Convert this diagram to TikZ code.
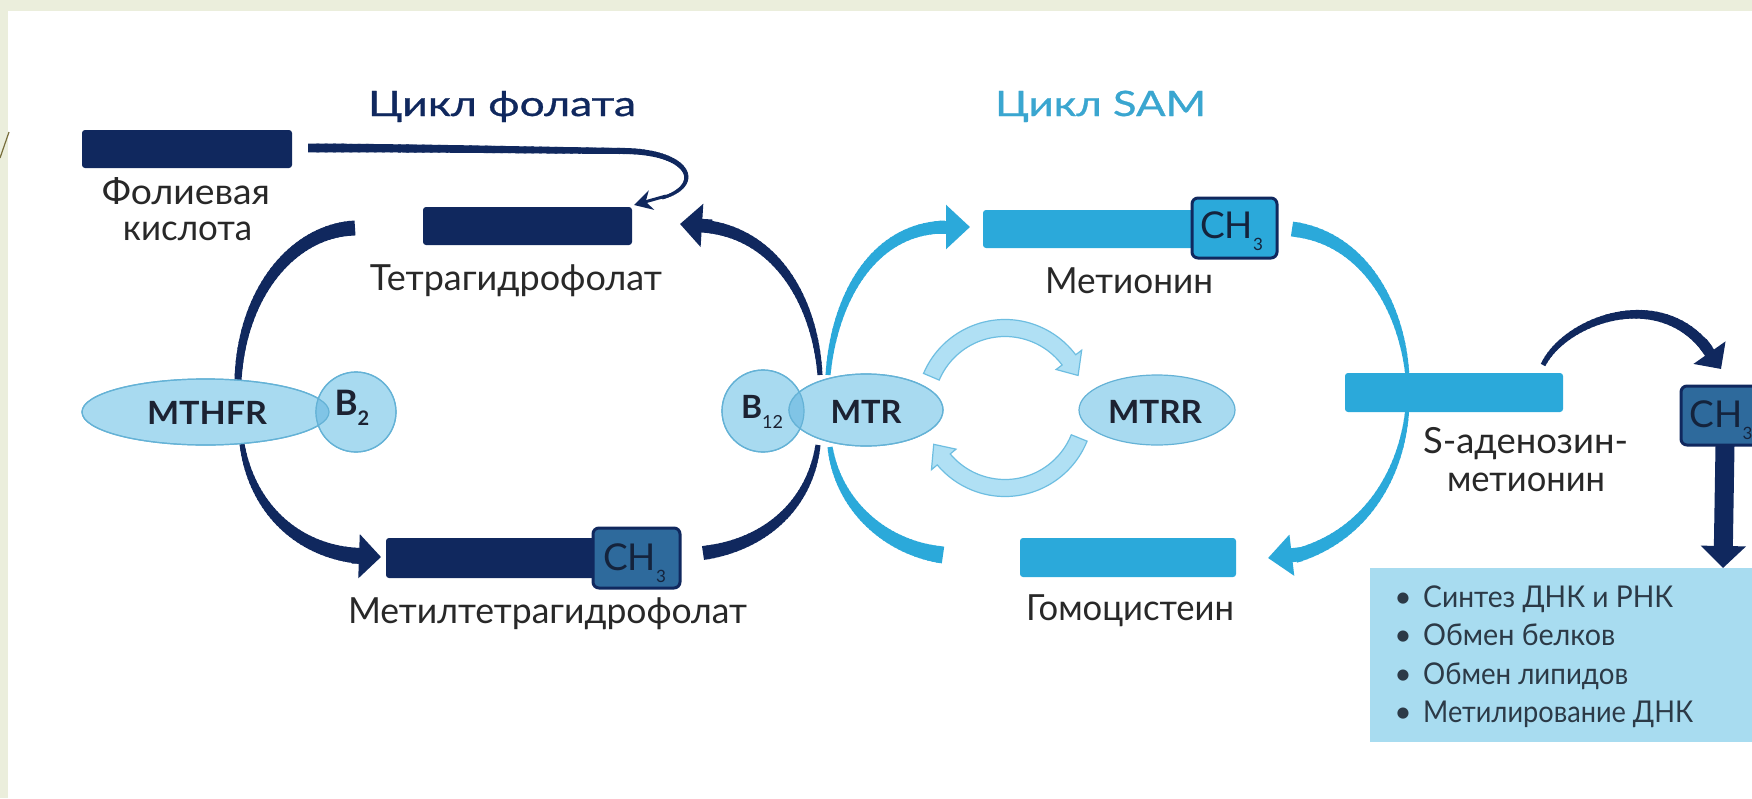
\documentclass[tikz,border=0pt]{standalone}
\usepackage{graphicx}
\usepackage{fontspec}
\setmainfont{Lato}
\newfontfamily\titlefont[FakeBold=0.7]{Lato}
\usetikzlibrary{arrows.meta,calc,shapes.geometric}

\definecolor{navy}{RGB}{16,40,94}
\definecolor{sky}{RGB}{43,169,218}
\definecolor{chmid}{RGB}{46,106,156}
\definecolor{enz}{RGB}{168,218,240}
\definecolor{enzdk}{RGB}{128,196,230}
\definecolor{enzline}{RGB}{100,178,214}
\definecolor{infob}{RGB}{168,220,240}
\definecolor{skytitle}{RGB}{58,166,208}
\definecolor{bgc}{RGB}{235,238,220}
\definecolor{cycf}{RGB}{176,224,244}
\definecolor{cycl}{RGB}{110,190,225}
\definecolor{txt}{RGB}{40,40,40}
\definecolor{enztxt}{RGB}{28,34,50}
\definecolor{chtxt}{RGB}{20,35,60}
\definecolor{bultxt}{RGB}{44,58,71}
\definecolor{olivel}{RGB}{120,110,60}

\newcommand\fitw[2]{\resizebox{#1}{\height}{#2}}
\newcommand\chlab{CH\raisebox{-12pt}{\fontsize{17}{17}\selectfont 3}}

% tapered curve: colour, start width, end width, p0, p1, p2, p3
\newcommand\swoosh[7]{%
  \foreach \k in {0,...,39}{%
    \pgfmathsetmacro\ta{\k/40}%
    \pgfmathsetmacro\tb{min(1,(\k+1.35)/40)}%
    \pgfmathsetmacro\wk{#2+(#3-#2)*(\k+0.5)/40}%
    \path #4 .. controls #5 and #6 .. #7 coordinate[pos=\ta] (swA) coordinate[pos=\tb] (swB);%
    \draw[draw=#1, line width=\wk pt, line cap=butt] (swA) -- (swB);%
  }%
}

\tikzset{
  bar/.style={rectangle, rounded corners=3pt, inner sep=0pt, outer sep=0pt, fill=#1},
  chbox/.style={rectangle, rounded corners=6pt, inner sep=0pt, outer sep=0pt, fill=#1, draw=navy, line width=3pt},
  enzyme/.style={ellipse, fill=enz, draw=enzline, line width=1.2pt, inner sep=0pt, outer sep=0pt},
  lbl/.style={text=txt, inner sep=0pt, font=\fontsize{36}{40}\selectfont},
  enzlbl/.style={text=enztxt, inner sep=0pt, font=\fontsize{32}{36}\selectfont\bfseries},
  chlbl/.style={text=chtxt, inner sep=0pt, font=\fontsize{37}{40}\selectfont},
  bul/.style={text=bultxt, inner sep=0pt, font=\fontsize{30}{34}\selectfont},
  cyc/.style={fill=cycf, draw=cycl, line width=1.2pt},
}

\begin{document}
\begin{tikzpicture}[x=1pt,y=-1pt]
\useasboundingbox (0,0) rectangle (1752,798);
\fill[bgc] (0,0) rectangle (1752,798);
\fill[white] (8,11) rectangle (1752,798);
\draw[olivel, line width=1.2pt] (0,158) -- (9,132);

% ---- MTR <-> MTRR cyclic arrows
\coordinate (cc) at (1005,408);
\filldraw[cyc] ($(cc)+(-157:88.5)$) arc[start angle=-157, end angle=-37, radius=88.5]
  -- ($(cc)+(-37:96)$) -- ($(cc)+(-24:80)$) -- ($(cc)+(-37:64)$) -- ($(cc)+(-37:71.5)$)
  arc[start angle=-37, end angle=-157, radius=71.5] -- cycle;
\filldraw[cyc] ($(cc)+(22:88.5)$) arc[start angle=22, end angle=140, radius=88.5]
  -- ($(cc)+(140:96)$) -- ($(cc)+(153:80)$) -- ($(cc)+(140:64)$) -- ($(cc)+(140:71.5)$)
  arc[start angle=140, end angle=22, radius=71.5] -- cycle;

% ---- folate cycle swooshes
\swoosh{navy}{15}{7}{(355,228)}{(295,230)}{(242,290)}{(238,380)}
\swoosh{navy}{5}{16}{(242,444)}{(252,510)}{(300,553)}{(362,556)}
\draw[navy, line width=15pt, -{Triangle[width=43pt,length=22pt]}] (352,556) -- (381,557);
\swoosh{navy}{14}{5}{(703,553)}{(765,545)}{(810,505)}{(818,445)}
\swoosh{navy}{5}{13}{(820,375)}{(815,300)}{(775,232)}{(702,226)}
\draw[navy, line width=13pt, -{Triangle[width=42pt,length=22pt]}] (712,226) -- (680,224);

% folic acid -> THF
\swoosh{navy}{9}{6}{(308,148)}{(420,148)}{(520,150)}{(625,151)}
\swoosh{navy}{6}{3}{(625,151)}{(690,152)}{(705,185)}{(662,198)}
\draw[navy, line width=3pt, -{Stealth[width=20pt,length=18pt]}] (666,196) -- (634,205);

% ---- SAM cycle swooshes
\swoosh{sky}{5}{13}{(828,375)}{(834,300)}{(872,228)}{(945,227)}
\draw[sky, line width=13pt, -{Triangle[width=43pt,length=24pt]}] (938,227) -- (970,227);
\swoosh{sky}{15}{3}{(1292,229)}{(1370,238)}{(1408,320)}{(1408,392)}
\swoosh{sky}{3}{14}{(1408,392)}{(1408,465)}{(1370,535)}{(1295,556)}
\draw[sky, line width=14pt, -{Triangle[width=40pt,length=24pt]}] (1302,554) -- (1268,558);
\swoosh{sky}{17}{5}{(943,555)}{(885,548)}{(838,505)}{(830,447)}

% SAM -> CH3
\swoosh{navy}{5}{11}{(1543,365)}{(1565,320)}{(1660,285)}{(1708,350)}
\draw[navy, line width=11pt, -{Triangle[width=38pt,length=20pt]}] (1702,342) -- (1721,369);

% ---- bars
\node[bar=navy, minimum width=210pt, minimum height=38pt] (fol) at (187,149) {};
\node[bar=navy, minimum width=209pt, minimum height=38pt] (thf) at (527.5,226) {};
\node[bar=navy, minimum width=224pt, minimum height=40pt] (mthf) at (498,558) {};
\node[chbox=chmid, minimum width=87pt, minimum height=60pt] (ch3a) at (636.5,558) {};
\node[bar=sky, minimum width=217pt, minimum height=38pt] (met) at (1091.5,229) {};
\node[chbox=sky, minimum width=85pt, minimum height=60pt] (ch3b) at (1234.5,228) {};
\node[bar=sky, minimum width=216pt, minimum height=39pt] (hcy) at (1128,557.5) {};
\node[bar=sky, minimum width=218pt, minimum height=39pt] (sam) at (1454,392.5) {};
\node[chbox=chmid, minimum width=88pt, minimum height=59pt] (ch3c) at (1725,415.5) {};
\node[bar=infob, rounded corners=0pt, minimum width=390pt, minimum height=174pt] (info) at (1565,655) {};

\draw[navy, line width=19pt, -{Triangle[width=44pt,length=22pt]}] (ch3c.south) -- (1723,568);

% ---- enzymes
\node[enzyme, minimum width=247pt, minimum height=66pt] (mthfr) at (205.5,412) {};
\node[enzyme, circle, minimum size=80pt] (b2) at (356,412) {};
\begin{scope}
  \clip (205.5,412) ellipse [x radius=123.5, y radius=33];
  \fill[enzdk] (356,412) circle [radius=40];
\end{scope}
\draw[enzline, line width=1.2pt] (205.5,412) ellipse [x radius=123.5, y radius=33];
\draw[enzline, line width=1.2pt] (356,412) circle [radius=40];

\node[enzyme, circle, minimum size=82pt] (b12) at (763,411) {};
\node[enzyme, minimum width=154pt, minimum height=72pt] (mtr) at (866,410) {};
\begin{scope}
  \clip (866,410) ellipse [x radius=77, y radius=36];
  \fill[enzdk] (763,411) circle [radius=41];
\end{scope}
\draw[enzline, line width=1.2pt] (866,410) ellipse [x radius=77, y radius=36];
\draw[enzline, line width=1.2pt] (763,411) circle [radius=41];

\node[enzyme, minimum width=156pt, minimum height=70pt] (mtrr) at (1157,410) {};

% ---- texts
\node[anchor=base, text=navy, inner sep=0pt, font=\titlefont\fontsize{35}{40}\selectfont] (tfol) at (502,116) {\fitw{268pt}{Цикл фолата}};
\node[anchor=base, text=skytitle, inner sep=0pt, font=\titlefont\fontsize{35}{40}\selectfont] (tsam) at (1100.5,116) {\fitw{211pt}{Цикл SAM}};

\node[lbl, anchor=base] (lfol1) at (186,204) {\fitw{168pt}{Фолиевая}};
\node[lbl, anchor=base] (lfol2) at (187.5,240) {\fitw{129pt}{кислота}};
\node[lbl, anchor=base] (lthf) at (516,290) {\fitw{292pt}{Тетрагидрофолат}};
\node[lbl, anchor=base] (lmthf) at (547.5,623) {\fitw{399pt}{Метилтетрагидрофолат}};
\node[lbl, anchor=base] (lmet) at (1129,293) {\fitw{168pt}{Метионин}};
\node[lbl, anchor=base] (lhcy) at (1130,620) {\fitw{208pt}{Гомоцистеин}};
\node[lbl, anchor=base] (lsam1) at (1525.5,453) {\fitw{205pt}{S-аденозин-}};
\node[lbl, anchor=base] (lsam2) at (1526,491) {\fitw{158pt}{метионин}};

\node[enzlbl, anchor=base] (tmthfr) at (207,424) {\fitw{120pt}{MTHFR}};
\node[enzlbl, anchor=base] (tmtr) at (866,423) {\fitw{71pt}{MTR}};
\node[enzlbl, anchor=base] (tmtrr) at (1155,423) {\fitw{94pt}{MTRR}};
\node[enzlbl, anchor=base, font=\fontsize{35}{38}\selectfont\bfseries] (tb2) at (352,415) {B\raisebox{-10pt}{\fontsize{20}{20}\selectfont 2}};
\node[enzlbl, anchor=base] (tb12) at (762,418) {B\raisebox{-10pt}{\fontsize{18}{18}\selectfont\mdseries 12}};

\node[chlbl, anchor=base] (tch3a) at (634.5,570) {\chlab};
\node[chlbl, anchor=base] (tch3b) at (1231.5,238) {\chlab};
\node[chlbl, anchor=base] (tch3c) at (1721,427) {\chlab};

\node[bul, anchor=base] (b1) at (1403,607) {\textbullet};
\node[bul, anchor=base] (b2b) at (1403,645) {\textbullet};
\node[bul, anchor=base] (b3) at (1403,684) {\textbullet};
\node[bul, anchor=base] (b4) at (1403,722) {\textbullet};
\node[bul, anchor=base west] (l1) at (1423,607) {\fitw{250pt}{Синтез ДНК и РНК}};
\node[bul, anchor=base west] (l2) at (1423,645) {\fitw{192pt}{Обмен белков}};
\node[bul, anchor=base west] (l3) at (1423,684) {\fitw{205pt}{Обмен липидов}};
\node[bul, anchor=base west] (l4) at (1423,722) {\fitw{270pt}{Метилирование ДНК}};
\end{tikzpicture}
\end{document}
